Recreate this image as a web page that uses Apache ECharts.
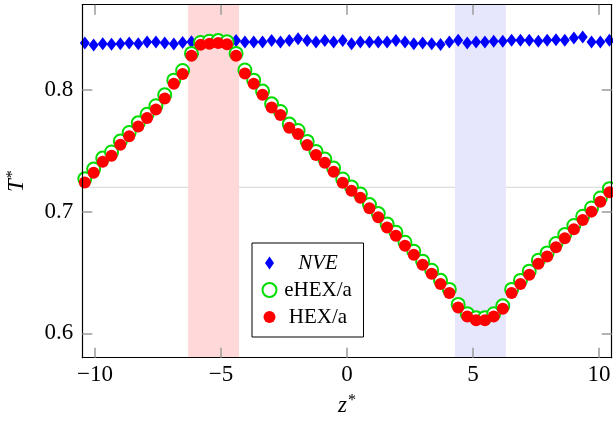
<!DOCTYPE html>
<html>
<head>
<meta charset="utf-8">
<script src="https://cdn.jsdelivr.net/npm/echarts@6/dist/echarts.min.js"></script>
<style>
html,body{margin:0;padding:0;background:#fff;}
#chart{width:613px;height:424px;}
</style>
</head>
<body>
<div id="chart"></div>
<script>
// ---- data ----
const zPos = [-10.40,-10.05,-9.69,-9.34,-8.99,-8.64,-8.28,-7.93,-7.58,-7.23,
  -6.87,-6.52,-6.17,-5.81,-5.46,-5.11,-4.76,-4.40,-4.05,-3.70,
  -3.35,-2.99,-2.64,-2.29,-1.94,-1.58,-1.23,-0.88,-0.53,-0.17,
  0.18,0.53,0.89,1.24,1.59,1.94,2.30,2.65,3.00,3.36,
  3.71,4.06,4.41,4.77,5.12,5.47,5.82,6.18,6.53,6.88,
  7.23,7.59,7.94,8.29,8.64,9.00,9.35,9.70,10.05,10.41];
const nveT = [0.8385,0.8368,0.8380,0.8375,0.8380,0.8385,0.8380,0.8393,0.8393,0.8385,
  0.8378,0.8390,0.8395,0.8400,0.8395,0.8390,0.8398,0.8405,0.8393,0.8393,
  0.8393,0.8405,0.8393,0.8405,0.8420,0.8405,0.8393,0.8405,0.8393,0.8405,
  0.8380,0.8393,0.8393,0.8393,0.8393,0.8405,0.8393,0.8380,0.8385,0.8380,
  0.8374,0.8393,0.8407,0.8385,0.8393,0.8393,0.8399,0.8399,0.8407,0.8407,
  0.8407,0.8399,0.8407,0.8413,0.8407,0.8426,0.8434,0.8393,0.8393,0.8407];
const ehexT = [0.727,0.735,0.744,0.749,0.758,0.765,0.773,0.780,0.787,0.796,
  0.808,0.816,0.830,0.839,0.840,0.8405,0.8395,0.830,0.8164,0.808,
  0.799,0.7886,0.7823,0.7719,0.7667,0.7577,0.7495,0.7432,0.7358,0.7268,
  0.7202,0.7145,0.7058,0.6984,0.6899,0.6831,0.6749,0.6675,0.6593,0.6519,
  0.6436,0.6361,0.6238,0.6162,0.6129,0.6129,0.6161,0.6226,0.6361,0.6435,
  0.6511,0.6601,0.6661,0.6738,0.6812,0.6886,0.6962,0.7030,0.7112,0.7189];
const hexT = [0.724,0.732,0.741,0.746,0.755,0.762,0.770,0.777,0.784,0.793,
  0.805,0.813,0.828,0.837,0.838,0.8385,0.8375,0.828,0.8134,0.805,
  0.796,0.7856,0.7793,0.7689,0.7637,0.7547,0.7465,0.7402,0.7328,0.7238,
  0.7172,0.7115,0.7028,0.6954,0.6869,0.6801,0.6719,0.6645,0.6563,0.6489,
  0.6406,0.6331,0.6213,0.6139,0.6107,0.6107,0.6139,0.6202,0.6331,0.6405,
  0.6481,0.6571,0.6631,0.6708,0.6782,0.6856,0.6932,0.7000,0.7082,0.7159];
const xTicks = [-10, -5, 0, 5, 10];
const yTicks = [0.6, 0.7, 0.8];
const refT = 0.72;
const hotRegion = [-6.3, -4.28];
const coldRegion = [4.28, 6.3];
const seriesNames = ['NVE', 'eHEX/a', 'HEX/a'];

// ---- chart ----
const serif = 'Liberation Serif';
const pairs = (xs, ys) => xs.map((x, i) => [x, ys[i]]);
const fmtX = v => (v < 0 ? '\u2212' + Math.abs(v) : String(v));
const tickStyle = {color: '#9a9a9a', width: 1.5};
const lineStyleAxis = {color: '#000', width: 1.2};

function baseX(extra) {
  return Object.assign({
    type: 'value', min: -10.5, max: 10.5, z: 6,
    axisLine: {show: true, onZero: false, lineStyle: lineStyleAxis},
    axisTick: {show: true, inside: true, length: 10, lineStyle: tickStyle, customValues: xTicks},
    splitLine: {show: false}
  }, extra);
}
function baseY(extra) {
  return Object.assign({
    type: 'value', min: 0.58, max: 0.87, z: 6,
    axisLine: {show: true, onZero: false, lineStyle: lineStyleAxis},
    axisTick: {show: true, inside: true, length: 10, lineStyle: tickStyle, customValues: yTicks},
    splitLine: {show: false}
  }, extra);
}

const chart = echarts.init(document.getElementById('chart'), null, {renderer: 'canvas'});
const diamondIcon = 'path://M7,0.5 L11.5,7 L7,13.5 L2.5,7 Z M0,0 M14,14';
const dotIcon = 'path://M1,7 A6,6 0 1 1 13,7 A6,6 0 1 1 1,7 Z M0,0 M14,14';

chart.setOption({
  animation: false,
  backgroundColor: '#fff',
  grid: {left: 82.3, right: 1.3, top: 4.7, bottom: 66.3, containLabel: false, outerBoundsMode: 'none'},
  xAxis: [
    baseX({
      position: 'bottom',
      axisLabel: {customValues: xTicks, formatter: fmtX, fontFamily: serif, fontSize: 23, color: '#000', margin: 6},
      name: '{v|z}{s|*}', nameLocation: 'middle', nameGap: 35,
      nameTextStyle: {rich: {
        v: {fontFamily: serif, fontStyle: 'italic', fontSize: 23, color: '#000', lineHeight: 26},
        s: {fontFamily: serif, fontSize: 16, color: '#000', verticalAlign: 'top', lineHeight: 16, padding: [0, 0, 0, 1]}
      }}
    }),
    baseX({position: 'top', axisLabel: {show: false}})
  ],
  yAxis: [
    baseY({
      position: 'left',
      axisLabel: {customValues: yTicks, formatter: v => v.toFixed(1), fontFamily: serif, fontSize: 23, color: '#000', margin: 9},
      name: '{v|T}{s|*}', nameLocation: 'middle', nameGap: 52,
      nameTextStyle: {rich: {
        v: {fontFamily: serif, fontStyle: 'italic', fontSize: 23, color: '#000', lineHeight: 26},
        s: {fontFamily: serif, fontSize: 16, color: '#000', verticalAlign: 'top', lineHeight: 16, padding: [0, 0, 0, 1]}
      }}
    }),
    baseY({position: 'right', axisLabel: {show: false}})
  ],
  legend: {
    left: 252, top: 243, orient: 'vertical',
    padding: [9.5, 9, 9.5, 9.5], itemGap: 6, itemWidth: 14, itemHeight: 14,
    borderColor: '#000', borderWidth: 1, backgroundColor: '#fff',
    data: [
      {name: seriesNames[0], icon: diamondIcon, itemStyle: {color: '#0000ff', borderWidth: 0, opacity: 1}},
      {name: seriesNames[1], icon: 'circle', itemStyle: {color: '#ffffff', borderColor: '#00dd00', borderWidth: 2, opacity: 1}},
      {name: seriesNames[2], icon: dotIcon, itemStyle: {color: '#ff0000', borderWidth: 0, opacity: 1}}
    ],
    formatter: n => (n === 'NVE' ? '{i|' + n + '}' : '{n|' + n + '}'),
    textStyle: {rich: {
      i: {fontFamily: serif, fontStyle: 'italic', fontSize: 21, color: '#000', width: 73, align: 'center', lineHeight: 22},
      n: {fontFamily: serif, fontSize: 21, color: '#000', width: 73, align: 'center', lineHeight: 22}
    }}
  },
  series: [
    {
      name: 'ref', type: 'line', z: 0, silent: true, symbol: 'none',
      data: [[-10.5, refT], [10.5, refT]],
      lineStyle: {color: '#d4d4d4', width: 1}
    },
    {
      name: 'regions', type: 'scatter', data: [], silent: true,
      markArea: {
        silent: true,
        data: [
          [{xAxis: hotRegion[0], itemStyle: {color: '#ffd9d9'}}, {xAxis: hotRegion[1]}],
          [{xAxis: coldRegion[0], itemStyle: {color: '#e6e6fc'}}, {xAxis: coldRegion[1]}]
        ]
      }
    },
    {
      name: seriesNames[0], type: 'scatter', z: 3, symbol: 'diamond', symbolSize: [10, 13],
      itemStyle: {color: '#0000ff', opacity: 1}, data: pairs(zPos, nveT)
    },
    {
      name: seriesNames[1], type: 'scatter', z: 4, symbol: 'circle', symbolSize: 13,
      itemStyle: {color: '#ffffff', borderColor: '#00dd00', borderWidth: 2, opacity: 1}, data: pairs(zPos, ehexT)
    },
    {
      name: seriesNames[2], type: 'scatter', z: 5, symbol: 'circle', symbolSize: 12,
      itemStyle: {color: '#ff0000', opacity: 1}, data: pairs(zPos, hexT)
    }
  ]
});
</script>
</body>
</html>
